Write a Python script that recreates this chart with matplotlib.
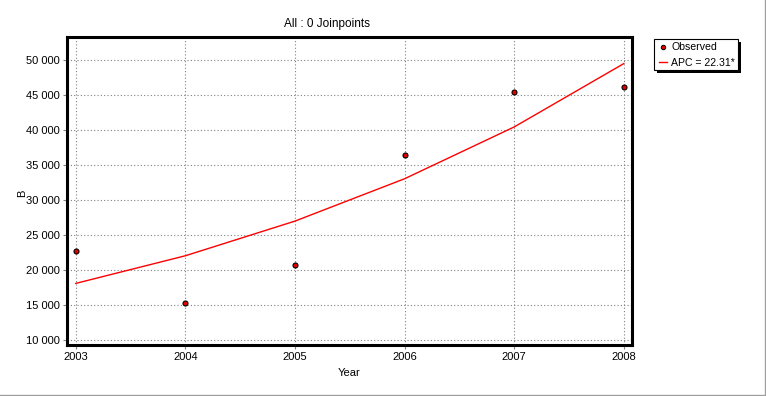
import matplotlib.pyplot as plt
from matplotlib.lines import Line2D
from matplotlib.patches import Rectangle
from matplotlib.ticker import FuncFormatter

# data
years = [2003, 2004, 2005, 2006, 2007, 2008]
observed = [22800, 15300, 20800, 36450, 45450, 46150]
fitted = [18100, 22050, 27000, 33050, 40450, 49500]
apc_label = 'APC = 22.31*'
y_ticks = [10000, 15000, 20000, 25000, 30000, 35000, 40000, 45000, 50000]

W, H = 766, 396
plt.rcParams['font.family'] = ['Liberation Sans', 'DejaVu Sans']
plt.rcParams['font.size'] = 8

fig = plt.figure(figsize=(W / 100, H / 100), dpi=100)
fig.patch.set_facecolor('white')

# axes box in pixels: left 67, right 632, top 37, bottom 345
ax = fig.add_axes([67 / W, 1 - 345 / H, (632 - 67) / W, (345 - 37) / H])
ax.set_xlim(2002.92, 2008.075)
ax.set_ylim(9300, 53300)

ax.plot(years, fitted, color='#ff0000', lw=1, zorder=3)
ax.plot(years, observed, ls='none', marker='o', ms=3.6,
        markerfacecolor='#e00000', markeredgecolor='black', mew=0.8, zorder=4)

ax.set_xticks(years)
ax.set_yticks(y_ticks)
ax.yaxis.set_major_formatter(FuncFormatter(lambda v, p: f'{int(v):,}'.replace(',', ' ')))
ax.grid(True, color='#808080', ls=(0, (1, 2)), lw=0.8)
ax.tick_params(length=3, width=0.8, color='#808080', pad=2, labelsize=8)

for s in ax.spines.values():
    s.set_linewidth(2.2)
    s.set_color('black')

fig.text(327 / W, 1 - 24 / H, 'All : 0 Joinpoints', ha='center', va='center', fontsize=8.5)
fig.text(349 / W, 1 - 373 / H, 'Year', ha='center', va='center', fontsize=8)
fig.text(22 / W, 1 - 193 / H, 'B', ha='center', va='center', rotation=90, fontsize=8)

# legend box with shadow
lx0, ly0, lx1, ly1 = 654, 39, 738, 70
fig.patches.append(Rectangle(((lx0 + 3) / W, 1 - (ly1 + 3) / H), (lx1 - lx0) / W, (ly1 - ly0) / H,
                             transform=fig.transFigure, facecolor='black', edgecolor='none'))
fig.patches.append(Rectangle((lx0 / W, 1 - ly1 / H), (lx1 - lx0) / W, (ly1 - ly0) / H,
                             transform=fig.transFigure, facecolor='white', edgecolor='black', lw=0.8))
fig.lines.append(Line2D([663 / W], [1 - 47 / H], transform=fig.transFigure, ls='none',
                        marker='o', ms=3.2, markerfacecolor='#e00000', markeredgecolor='black', mew=0.7))
fig.lines.append(Line2D([659 / W, 667 / W], [1 - 62 / H, 1 - 62 / H], transform=fig.transFigure,
                        color='#ff0000', lw=1))
fig.text(671 / W, 1 - 47.5 / H, 'Observed', va='center', fontsize=7.6)
fig.text(671 / W, 1 - 62.5 / H, apc_label, va='center', fontsize=7.6)

# window border
fig.lines.append(Line2D([0, 765 / W, 765 / W], [1 - 395 / H, 1 - 395 / H, 1],
                        transform=fig.transFigure, color='#a0a0a0', lw=1))

fig.savefig('out.png', dpi=100)
